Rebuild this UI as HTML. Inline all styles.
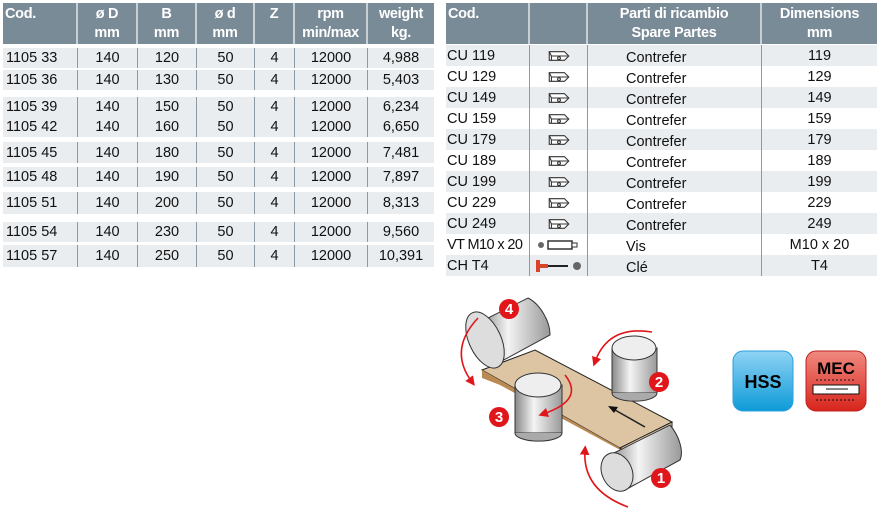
<!DOCTYPE html>
<html><head><meta charset="utf-8"><style>
body{margin:0;width:879px;height:517px;background:#fff;font-family:"Liberation Sans",sans-serif;position:relative;overflow:hidden}
.h{position:absolute;background:#7a8b98;color:#fff;font-weight:bold;font-size:14.5px;letter-spacing:-0.3px}
.h div{position:absolute;top:0;height:41px;text-align:center;line-height:19px;padding-top:2px;border-right:2px solid #c8d0d6;box-sizing:border-box}
.r{position:absolute;background:#e9edf0;font-size:14.5px;color:#111;white-space:nowrap}
.r div{position:absolute;top:0;height:100%;text-align:center;display:flex;align-items:center;justify-content:center;border-right:1px solid #8d9aa4;box-sizing:border-box}
.r div.l{justify-content:flex-start;padding-left:3px}
.w{background:#fff}
</style></head><body>
<div class="h" style="left:3px;top:3px;width:431px;height:41px">
<div style="left:0;width:75px;text-align:left;padding-left:2px">Cod.</div>
<div style="left:75px;width:60px">ø D<br>mm</div>
<div style="left:135px;width:59px">B<br>mm</div>
<div style="left:194px;width:58px">ø d<br>mm</div>
<div style="left:252px;width:40px">Z</div>
<div style="left:292px;width:73px">rpm<br>min/max</div>
<div style="left:365px;width:66px;border:none">weight<br>kg.</div>
</div>
<div id="L"></div>
<div class="h" style="left:446px;top:3px;width:431px;height:41px">
<div style="left:0;width:84px;text-align:left;padding-left:2px">Cod.</div>
<div style="left:84px;width:58px"></div>
<div style="left:142px;width:174px">Parti di ricambio<br>Spare Partes</div>
<div style="left:316px;width:115px;border:none">Dimensions<br>mm</div>
</div>
<div id="R"></div>
<script>
var L=[["1105 33","120","4,988",48,20],["1105 36","130","5,403",70,20],["1105 39","150","6,234",97,20],["1105 42","160","6,650",117,20],["1105 45","180","7,481",142,21],["1105 48","190","7,897",167,20],["1105 51","200","8,313",192,22],["1105 54","230","9,560",222,20],["1105 57","250","10,391",245,22]];
var h="";L.forEach(function(r){h+='<div class="r" style="left:3px;top:'+r[3]+'px;width:431px;height:'+r[4]+'px"><div class="l" style="left:0;width:75px">'+r[0]+'</div><div style="left:75px;width:60px">140</div><div style="left:135px;width:59px">'+r[1]+'</div><div style="left:194px;width:58px">50</div><div style="left:252px;width:40px">4</div><div style="left:292px;width:73px">12000</div><div style="left:365px;width:66px;border:none">'+r[2]+'</div></div>';});
document.getElementById("L").innerHTML=h;
var ic='<svg width="26" height="14" viewBox="0 0 24 12"><path d="M3 2h14l4 4-4 4H3z" fill="#fff" stroke="#333"/><path d="M3 2l2 4h15M5 6v4" fill="none" stroke="#333"/><circle cx="12" cy="8" r="1.3" fill="none" stroke="#333"/></svg>';
var R=[];["119","129","149","159","179","189","199","229","249"].forEach(function(d){R.push(["CU "+d,ic,"Contrefer",d]);});
R.push(['<span style="letter-spacing:-0.6px">VT M10 x 20</span>','<svg width="44" height="10"><circle cx="4" cy="5" r="3" fill="#666"/><rect x="11" y="1" width="24" height="8" fill="#fff" stroke="#333" stroke-width="1.5"/><rect x="35" y="3" width="5" height="4" fill="#fff" stroke="#333"/></svg>',"Vis","M10 x 20"]);
R.push(["CH T4",'<svg width="50" height="14"><rect x="2" y="1" width="4" height="12" fill="#d9452b"/><rect x="5" y="5" width="9" height="4" fill="#d9452b"/><rect x="14" y="6" width="20" height="2" fill="#222"/><circle cx="43" cy="7" r="4" fill="#666"/></svg>',"Clé","T4"]);
h="";R.forEach(function(r,i){var t=45+i*21;h+='<div class="r'+(i%2?' w':'')+'" style="left:446px;top:'+t+'px;width:431px;height:21px"><div class="l" style="left:0;width:84px;padding-left:1px">'+r[0]+'</div><div style="left:84px;width:58px">'+r[1]+'</div><div class="l" style="left:142px;width:174px;padding-left:38px;padding-top:4px">'+r[2]+'</div><div style="left:316px;width:115px;border:none">'+r[3]+'</div></div>';});
document.getElementById("R").innerHTML=h;
</script>
<svg style="position:absolute;left:440px;top:290px" width="439" height="227" viewBox="0 0 439 227">
<defs><linearGradient id="cy" x1="0" x2="1"><stop offset="0" stop-color="#888"/><stop offset=".4" stop-color="#f4f4f4"/><stop offset="1" stop-color="#999"/></linearGradient>
<linearGradient id="hs" x1="0" y1="0" x2="0" y2="1"><stop offset="0" stop-color="#8fd3f5"/><stop offset="1" stop-color="#0d9bd8"/></linearGradient>
<linearGradient id="mc" x1="0" y1="0" x2="0" y2="1"><stop offset="0" stop-color="#f08a80"/><stop offset="1" stop-color="#d8251c"/></linearGradient>
<marker id="a" markerWidth="6" markerHeight="6" refX="3" refY="3" orient="auto"><path d="M0 0L6 3L0 6z" fill="#e0161b"/></marker></defs>
<polygon points="42,80 95,60 232,132 180,158" fill="#ddc4a2" stroke="#222"/>
<polygon points="42,80 180,158 195,168 60,95 42,88" fill="#b98a52"/>
<polygon points="180,158 232,132 232,146 195,168" fill="#e8d3b5" stroke="#222"/>
<line x1="205" y1="137" x2="175" y2="120" stroke="#222" stroke-width="1.5"/><path d="M168 116l10 1-4 6z" fill="#111"/>
<path d="M40 32 L88 8 A15 28 -30 0 1 110 45 L60 72 Z" fill="url(#cy)" stroke="#333"/>
<ellipse cx="45" cy="50" rx="16" ry="30" transform="rotate(-25 45 50)" fill="#ddd" stroke="#333"/>
<rect x="172" y="58" width="45" height="45" fill="url(#cy)" stroke="#333"/><ellipse cx="194" cy="58" rx="22" ry="12" fill="#eee" stroke="#333"/><path d="M172 103a22 8 0 0 0 45 0" fill="#aaa" stroke="#333"/>
<rect x="75" y="95" width="47" height="48" fill="url(#cy)" stroke="#333"/><ellipse cx="98" cy="95" rx="23" ry="12" fill="#eee" stroke="#333"/><path d="M75 143a23 8 0 0 0 47 0" fill="#aaa" stroke="#333"/>
<path d="M170 165 L230 135 A15 28 -30 0 1 240 170 L185 200 Z" fill="url(#cy)" stroke="#333"/>
<ellipse cx="177" cy="182" rx="15" ry="20" transform="rotate(-25 177 182)" fill="#ddd" stroke="#333"/>
<g fill="none" stroke="#e0161b" stroke-width="1.6" marker-end="url(#a)">
<path d="M38 28 Q8 60 32 92"/><path d="M212 42 Q168 35 155 72"/><path d="M125 85 Q145 110 103 124"/><path d="M188 217 Q142 200 145 160"/></g>
<g font-family="Liberation Sans" font-weight="bold" font-size="15" fill="#fff" text-anchor="middle">
<circle cx="69" cy="19" r="10" fill="#e0161b"/><text x="69" y="24">4</text>
<circle cx="219" cy="92" r="10" fill="#e0161b"/><text x="219" y="97">2</text>
<circle cx="59" cy="127" r="10" fill="#e0161b"/><text x="59" y="132">3</text>
<circle cx="221" cy="188" r="10" fill="#e0161b"/><text x="221" y="193">1</text></g>
<rect x="293" y="61" width="60" height="60" rx="10" fill="url(#hs)" stroke="#2aa0dd"/>
<text x="323" y="98" font-family="Liberation Sans" font-weight="bold" font-size="18" text-anchor="middle">HSS</text>
<rect x="366" y="61" width="60" height="60" rx="10" fill="url(#mc)" stroke="#c02020"/>
<text x="396" y="84" font-family="Liberation Sans" font-weight="bold" font-size="17" text-anchor="middle">MEC</text>
<rect x="373" y="95" width="46" height="9" fill="#fff" stroke="#111"/><line x1="408" y1="99" x2="386" y2="99" stroke="#111"/>
<path d="M376 90h40M376 110h40" stroke="#111" stroke-dasharray="2 2"/>
</svg>
</body></html>
